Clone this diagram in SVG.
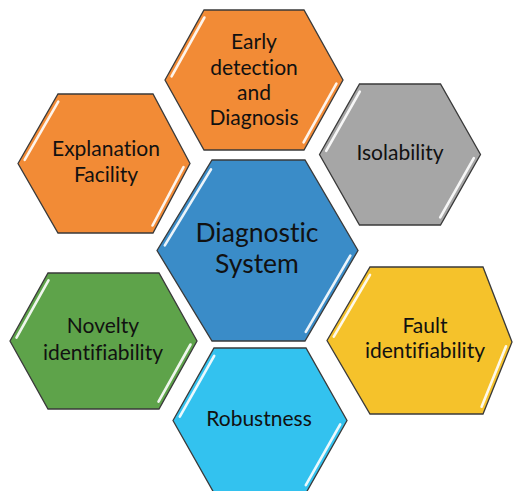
<svg xmlns="http://www.w3.org/2000/svg" width="513" height="491" viewBox="0 0 513 491">
<style>
.hex{stroke:#3a3a3a;stroke-width:1.3;stroke-linejoin:miter}
.hl{stroke:#ffffff;stroke-width:2.6;stroke-linecap:round;opacity:0.9;fill:none}
.t{font-family:Lato,"Liberation Sans",sans-serif;font-size:21px;fill:#111111;text-anchor:middle;font-variant-ligatures:none}
.big{font-size:26.5px}
.orange{fill:#F28B36}
.gray{fill:#A6A6A6}
.blue{fill:#3A8CC8}
.green{fill:#5EA34A}
.yellow{fill:#F5C22B}
.sky{fill:#33C2EF}
</style>
<rect width="513" height="491" fill="#ffffff"/>
<g id="early-detection">
<polygon class="hex orange" points="165,80 204,10 304,10 343,80 304,150 204,150"/>
<line class="hl" x1="204.4" y1="17.5" x2="171.6" y2="76.4"/>
<line class="hl" x1="336.4" y1="83.6" x2="303.6" y2="142.4"/>
<text class="t" x="254" y="49">Early</text>
<text class="t" x="254" y="75">detection</text>
<text class="t" x="254" y="100">and</text>
<text class="t" x="254" y="125">Diagnosis</text>
</g>
<g id="explanation-facility">
<polygon class="hex orange" points="18,163.5 58,94 153,94 190,163.5 153,233 58,233"/>
<line class="hl" x1="58.3" y1="101.6" x2="24.7" y2="159.9"/>
<line class="hl" x1="183.5" y1="167.2" x2="152.5" y2="225.5"/>
<text class="t" x="106" y="156">Explanation</text>
<text class="t" x="106" y="182">Facility</text>
</g>
<g id="isolability">
<polygon class="hex gray" points="319.5,154.5 359.5,84 440.5,84 480.5,154.5 440.5,225 359.5,225"/>
<line class="hl" x1="359.8" y1="91.6" x2="326.2" y2="150.9"/>
<line class="hl" x1="473.8" y1="158.1" x2="440.2" y2="217.4"/>
<text class="t" x="400" y="160">Isolability</text>
</g>
<g id="diagnostic-system">
<polygon class="hex blue" points="157,250.5 212,160 305,160 358,250.5 305,341 212,341"/>
<line class="hl" x1="211" y1="169.3" x2="164.8" y2="245.4"/>
<line class="hl" x1="350.3" y1="255.7" x2="305.8" y2="331.8"/>
<text class="t big" x="257" y="242">Diagnostic</text>
<text class="t big" x="257" y="273">System</text>
</g>
<g id="novelty-identifiability">
<polygon class="hex green" points="10,341 48,273 159,273 197,341 159,409 48,409"/>
<line class="hl" x1="48.5" y1="280.4" x2="16.5" y2="337.6"/>
<line class="hl" x1="190.5" y1="344.5" x2="158.5" y2="401.7"/>
<text class="t" x="103" y="333">Novelty</text>
<text class="t" x="103" y="360">identifiability</text>
</g>
<g id="fault-identifiability">
<polygon class="hex yellow" points="327,340.5 370,267 483,267 512,342 483,414 370,414"/>
<line class="hl" x1="370" y1="274.9" x2="333.8" y2="336.6"/>
<line class="hl" x1="506" y1="346.3" x2="481.6" y2="406.7"/>
<text class="t" x="425" y="333">Fault</text>
<text class="t" x="425" y="358">identifiability</text>
</g>
<g id="robustness">
<polygon class="hex sky" points="173,420.5 214,348 306,348 347,420.5 306,493 214,493"/>
<line class="hl" x1="214.2" y1="355.8" x2="179.8" y2="416.7"/>
<line class="hl" x1="340.2" y1="424.3" x2="305.8" y2="485.2"/>
<text class="t" x="259" y="426">Robustness</text>
</g>
</svg>
